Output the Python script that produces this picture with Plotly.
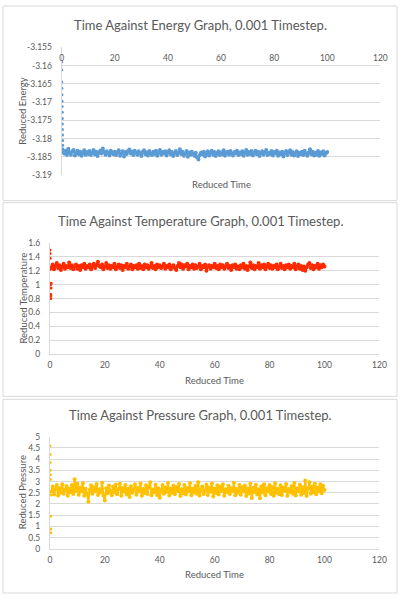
import plotly.graph_objects as go

# ---------------- data ----------------
TIME = [0.5, 1, 1.5, 2, 2.5, 3, 3.5, 4, 4.5, 5, 5.5, 6, 6.5, 7, 7.5, 8, 8.5, 9, 9.5, 10,
        10.5, 11, 11.5, 12, 12.5, 13, 13.5, 14, 14.5, 15, 15.5, 16, 16.5, 17, 17.5, 18, 18.5, 19, 19.5, 20,
        20.5, 21, 21.5, 22, 22.5, 23, 23.5, 24, 24.5, 25, 25.5, 26, 26.5, 27, 27.5, 28, 28.5, 29, 29.5, 30,
        30.5, 31, 31.5, 32, 32.5, 33, 33.5, 34, 34.5, 35, 35.5, 36, 36.5, 37, 37.5, 38, 38.5, 39, 39.5, 40,
        40.5, 41, 41.5, 42, 42.5, 43, 43.5, 44, 44.5, 45, 45.5, 46, 46.5, 47, 47.5, 48, 48.5, 49, 49.5, 50,
        50.5, 51, 51.5, 52, 52.5, 53, 53.5, 54, 54.5, 55, 55.5, 56, 56.5, 57, 57.5, 58, 58.5, 59, 59.5, 60,
        60.5, 61, 61.5, 62, 62.5, 63, 63.5, 64, 64.5, 65, 65.5, 66, 66.5, 67, 67.5, 68, 68.5, 69, 69.5, 70,
        70.5, 71, 71.5, 72, 72.5, 73, 73.5, 74, 74.5, 75, 75.5, 76, 76.5, 77, 77.5, 78, 78.5, 79, 79.5, 80,
        80.5, 81, 81.5, 82, 82.5, 83, 83.5, 84, 84.5, 85, 85.5, 86, 86.5, 87, 87.5, 88, 88.5, 89, 89.5, 90,
        90.5, 91, 91.5, 92, 92.5, 93, 93.5, 94, 94.5, 95, 95.5, 96, 96.5, 97, 97.5, 98, 98.5, 99, 99.5, 100]

ENERGY_START_T = [0.0, 0.03, 0.06, 0.09, 0.12, 0.15, 0.18, 0.21, 0.24, 0.27, 0.3, 0.33, 0.36, 0.39, 0.42, 0.45]
ENERGY_START = [-3.1590, -3.1612, -3.1645, -3.1662, -3.1680, -3.1698, -3.1712, -3.1728, -3.1745,
                -3.1760, -3.1775, -3.1790, -3.1805, -3.1818, -3.1828, -3.1835]
ENERGY = [-3.1836, -3.1841, -3.1833, -3.1845, -3.1828, -3.1839, -3.1844, -3.1835, -3.1831, -3.1846,
          -3.1838, -3.1833, -3.1843, -3.1836, -3.1847, -3.1840, -3.1832, -3.1844, -3.1837, -3.1842,
          -3.1834, -3.1845, -3.1838, -3.1831, -3.1843, -3.1836, -3.1848, -3.1839, -3.1833, -3.1841,
          -3.1827, -3.1837, -3.1844, -3.1835, -3.1840, -3.1846, -3.1833, -3.1839, -3.1843, -3.1836,
          -3.1845, -3.1838, -3.1832, -3.1847, -3.1840, -3.1835, -3.1849, -3.1837, -3.1842, -3.1834,
          -3.1830, -3.1841, -3.1836, -3.1845, -3.1833, -3.1839, -3.1844, -3.1835, -3.1841, -3.1848,
          -3.1837, -3.1832, -3.1843, -3.1838, -3.1846, -3.1834, -3.1840, -3.1845, -3.1836, -3.1842,
          -3.1833, -3.1847, -3.1839, -3.1831, -3.1844, -3.1837, -3.1841, -3.1835, -3.1846, -3.1838,
          -3.1832, -3.1843, -3.1837, -3.1848, -3.1840, -3.1834, -3.1845, -3.1839, -3.1829, -3.1842,
          -3.1836, -3.1847, -3.1841, -3.1834, -3.1850, -3.1838, -3.1844, -3.1836, -3.1842, -3.1847,
          -3.1839, -3.1852, -3.1857, -3.1845, -3.1838, -3.1843, -3.1836, -3.1849, -3.1841, -3.1835,
          -3.1846, -3.1839, -3.1833, -3.1844, -3.1837, -3.1848, -3.1840, -3.1835, -3.1845, -3.1838,
          -3.1843, -3.1832, -3.1847, -3.1839, -3.1836, -3.1844, -3.1834, -3.1841, -3.1846, -3.1837,
          -3.1840, -3.1833, -3.1845, -3.1838, -3.1842, -3.1835, -3.1847, -3.1839, -3.1831, -3.1844,
          -3.1837, -3.1842, -3.1834, -3.1846, -3.1839, -3.1833, -3.1843, -3.1836, -3.1848, -3.1840,
          -3.1835, -3.1844, -3.1838, -3.1831, -3.1845, -3.1839, -3.1842, -3.1834, -3.1846, -3.1837,
          -3.1841, -3.1833, -3.1847, -3.1838, -3.1843, -3.1836, -3.1849, -3.1840, -3.1834, -3.1845,
          -3.1838, -3.1832, -3.1844, -3.1837, -3.1846, -3.1840, -3.1835, -3.1848, -3.1839, -3.1843,
          -3.1836, -3.1845, -3.1833, -3.1841, -3.1847, -3.1838, -3.1829, -3.1843, -3.1836, -3.1846,
          -3.1839, -3.1844, -3.1834, -3.1847, -3.1838, -3.1842, -3.1835, -3.1846, -3.1840, -3.1837]

TEMP_START_T = [0.0, 0.05, 0.1, 0.15, 0.2, 0.25, 0.3, 0.35, 0.4, 0.45]
TEMP_START = [1.50, 1.45, 1.38, 1.22, 1.00, 0.86, 0.80, 0.84, 0.95, 1.02]
TEMPERATURE = [1.25, 1.29, 1.22, 1.27, 1.31, 1.24, 1.28, 1.21, 1.26, 1.30,
               1.23, 1.27, 1.25, 1.32, 1.24, 1.28, 1.22, 1.26, 1.29, 1.23,
               1.27, 1.21, 1.28, 1.25, 1.30, 1.23, 1.27, 1.25, 1.29, 1.22,
               1.26, 1.30, 1.24, 1.28, 1.33, 1.27, 1.25, 1.29, 1.22, 1.26,
               1.31, 1.24, 1.28, 1.23, 1.27, 1.25, 1.30, 1.22, 1.26, 1.29,
               1.24, 1.28, 1.21, 1.27, 1.25, 1.30, 1.23, 1.26, 1.29, 1.22,
               1.27, 1.25, 1.28, 1.23, 1.30, 1.24, 1.27, 1.22, 1.29, 1.25,
               1.28, 1.23, 1.26, 1.31, 1.24, 1.27, 1.22, 1.29, 1.25, 1.28,
               1.24, 1.26, 1.30, 1.23, 1.27, 1.25, 1.29, 1.22, 1.26, 1.28,
               1.24, 1.21, 1.27, 1.31, 1.25, 1.29, 1.23, 1.28, 1.26, 1.30,
               1.22, 1.27, 1.25, 1.29, 1.23, 1.28, 1.24, 1.26, 1.30, 1.22,
               1.27, 1.25, 1.29, 1.20, 1.26, 1.28, 1.23, 1.27, 1.25, 1.30,
               1.24, 1.27, 1.22, 1.29, 1.25, 1.28, 1.23, 1.26, 1.30, 1.24,
               1.27, 1.21, 1.28, 1.25, 1.29, 1.23, 1.26, 1.22, 1.28, 1.25,
               1.30, 1.23, 1.27, 1.21, 1.26, 1.32, 1.24, 1.28, 1.22, 1.27,
               1.25, 1.31, 1.23, 1.28, 1.25, 1.29, 1.22, 1.26, 1.30, 1.24,
               1.28, 1.23, 1.27, 1.25, 1.29, 1.22, 1.26, 1.30, 1.24, 1.27,
               1.22, 1.28, 1.25, 1.29, 1.23, 1.27, 1.25, 1.30, 1.22, 1.26,
               1.29, 1.23, 1.27, 1.21, 1.26, 1.20, 1.25, 1.29, 1.31, 1.24,
               1.28, 1.22, 1.27, 1.25, 1.30, 1.23, 1.28, 1.25, 1.29, 1.26]

PRESS_START_T = [0.0, 0.04, 0.08, 0.12, 0.16, 0.2, 0.24, 0.28, 0.32, 0.36]
PRESS_START = [4.60, 4.20, 3.85, 3.50, 3.30, 3.10, 1.45, 0.88, 0.72, 2.40]
PRESSURE = [2.55, 2.78, 2.42, 2.66, 2.85, 2.38, 2.71, 2.50, 2.88, 2.45,
            2.62, 2.80, 2.37, 2.69, 2.52, 2.84, 2.44, 3.10, 2.58, 2.90,
            2.41, 2.73, 2.55, 2.92, 2.36, 2.68, 2.47, 2.10, 2.62, 2.83,
            2.45, 2.74, 2.58, 2.89, 2.40, 2.66, 2.51, 2.95, 2.38, 2.15,
            2.70, 2.48, 2.82, 2.56, 2.39, 2.77, 2.52, 2.87, 2.43, 2.65,
            2.90, 2.37, 2.71, 2.54, 2.84, 2.42, 2.68, 2.31, 2.79, 2.50,
            2.63, 2.88, 2.41, 2.72, 2.55, 2.91, 2.36, 2.67, 2.49, 2.83,
            2.44, 2.75, 2.97, 2.39, 2.64, 2.52, 2.86, 2.40, 2.70, 2.28,
            2.61, 2.85, 2.46, 2.73, 2.53, 2.93, 2.38, 2.69, 2.50, 2.82,
            2.43, 2.76, 2.57, 2.89, 2.35, 2.66, 2.48, 2.84, 2.42, 2.71,
            2.56, 2.92, 2.39, 2.68, 2.51, 2.80, 2.45, 2.97, 2.37, 2.64,
            2.78, 2.44, 2.60, 2.87, 2.40, 2.73, 2.54, 2.91, 2.33, 2.69,
            2.49, 2.83, 2.42, 2.75, 2.58, 2.88, 2.36, 2.65, 2.52, 2.81,
            2.44, 2.70, 2.57, 2.94, 2.39, 2.67, 2.50, 2.85, 2.41, 2.74,
            2.55, 2.82, 2.35, 2.69, 2.47, 2.90, 2.27, 2.72, 2.53, 2.86,
            2.42, 2.66, 2.25, 2.79, 2.51, 2.88, 2.39, 2.71, 2.56, 2.84,
            2.44, 2.75, 2.37, 2.92, 2.50, 2.68, 2.43, 2.83, 2.40, 2.72,
            2.58, 2.89, 2.36, 2.67, 2.52, 2.80, 2.45, 2.93, 2.38, 2.70,
            2.55, 2.86, 2.41, 2.74, 2.49, 3.05, 2.35, 2.68, 2.97, 2.46,
            2.78, 2.52, 2.90, 2.43, 2.73, 2.57, 2.88, 2.48, 2.81, 2.62]

X_TICKS = [0, 20, 40, 60, 80, 100, 120]
Y_TICKS = [
    [-3.19, -3.185, -3.18, -3.175, -3.17, -3.165, -3.16, -3.155],
    [0, 0.2, 0.4, 0.6, 0.8, 1, 1.2, 1.4, 1.6],
    [0, 0.5, 1, 1.5, 2, 2.5, 3, 3.5, 4, 4.5, 5],
]
Y_TICK_TEXT = [
    ["-3.19", "-3.185", "-3.18", "-3.175", "-3.17", "-3.165", "-3.16", "-3.155"],
    ["0", "0.2", "0.4", "0.6", "0.8", "1", "1.2", "1.4", "1.6"],
    ["0", "0.5", "1", "1.5", "2", "2.5", "3", "3.5", "4", "4.5", "5"],
]

TITLES = ["Time Against Energy Graph, 0.001 Timestep.",
          "Time Against Temperature Graph, 0.001 Timestep.",
          "Time Against Pressure Graph, 0.001 Timestep."]
Y_TITLES = ["Reduced Energy", "Reduced Temperature", "Reduced Pressure"]
X_TITLE = "Reduced Time"
COLORS = ["#5B9BD5", "#FF2A00", "#FFC000"]

# ---------------- layout helpers ----------------
W, H = 405, 600
def px(x):
    return x / W
def py(y):
    return 1 - y / H

FONT = "Lato, 'Open Sans', sans-serif"
TICK_FONT = dict(family=FONT, size=8.5, color="#595959")
GRID = "#D9D9D9"

fig = go.Figure()

series = [
    (ENERGY_START_T, ENERGY_START, TIME, ENERGY),
    (TEMP_START_T, TEMP_START, TIME, TEMPERATURE),
    (PRESS_START_T, PRESS_START, TIME, PRESSURE),
]
for i, (t0, v0, t, v) in enumerate(series):
    ax = "" if i == 0 else str(i + 1)
    fig.add_trace(go.Scatter(x=t0, y=v0, mode="markers", xaxis="x" + ax, yaxis="y" + ax,
                             marker=dict(color=COLORS[i], size=3), showlegend=False,
                             hoverinfo="skip"))
    fig.add_trace(go.Scatter(x=t, y=v, mode="lines+markers", xaxis="x" + ax, yaxis="y" + ax,
                             line=dict(color=COLORS[i], width=2),
                             marker=dict(color=COLORS[i], size=4), showlegend=False))

# plot area pixel boxes: (x0, x1, ytop, ybottom)
boxes = [(61, 387, 43, 173), (49, 386, 242, 355), (49, 386, 439, 553)]
yranges = [[-3.19, -3.155], [0, 1.6], [0, 5]]

layout = dict(width=W, height=H, margin=dict(l=0, r=0, t=0, b=0),
              paper_bgcolor="white", plot_bgcolor="white", showlegend=False)

for i, (x0, x1, yt, yb) in enumerate(boxes):
    sfx = "" if i == 0 else str(i + 1)
    xa = dict(domain=[px(x0), px(x1)], range=[0, 120], tickmode="array",
              tickvals=X_TICKS, ticktext=[str(v) for v in X_TICKS],
              showgrid=False, zeroline=False, showline=(i != 0), linecolor=GRID, linewidth=1,
              ticks="", tickfont=TICK_FONT, anchor="y" + sfx, fixedrange=True,
              ticklabelstandoff=3)
    if i == 0:
        xa.update(anchor="free", position=py(47), side="bottom", showline=False,
                  ticklabelstandoff=0)
    ya = dict(domain=[py(yb), py(yt)], range=yranges[i], tickmode="array",
              tickvals=Y_TICKS[i], ticktext=Y_TICK_TEXT[i],
              showgrid=True, gridcolor=GRID, gridwidth=1, zeroline=False,
              showline=True, linecolor=GRID, linewidth=1, ticks="",
              tickfont=TICK_FONT, anchor="x" + sfx, fixedrange=True, ticklabelstandoff=7)
    layout["xaxis" + sfx] = xa
    layout["yaxis" + sfx] = ya

fig.update_layout(**layout)

# chart area borders
panels = [(1, 1, 404, 199), (1, 201, 404, 398), (1, 401, 404, 598)]
for (a, b, c, d) in panels:
    fig.add_shape(type="rect", xref="paper", yref="paper",
                  x0=px(a), x1=px(c), y0=py(d), y1=py(b),
                  line=dict(color="#D9D9D9", width=1), fillcolor="rgba(0,0,0,0)", layer="below")

# titles and axis titles
title_y = [20, 220, 417]
xtitle_y = [183, 382, 579]
ytitle_cy = [108, 298, 496]
for i in range(3):
    fig.add_annotation(text=TITLES[i], x=px(203), y=py(title_y[i]), xref="paper", yref="paper",
                       showarrow=False, xanchor="center", yanchor="middle",
                       font=dict(family=FONT, size=13, color="#595959"))
    x0, x1, yt, yb = boxes[i]
    fig.add_annotation(text=X_TITLE, x=px((x0 + x1) / 2), y=py(xtitle_y[i]), xref="paper", yref="paper",
                       showarrow=False, xanchor="center", yanchor="middle",
                       font=dict(family=FONT, size=9.5, color="#595959"))
    fig.add_annotation(text=Y_TITLES[i], x=px(21), y=py(ytitle_cy[i]), xref="paper", yref="paper",
                       showarrow=False, xanchor="center", yanchor="middle", textangle=-90,
                       font=dict(family=FONT, size=9.5, color="#595959"))

fig.write_html("out.html")
